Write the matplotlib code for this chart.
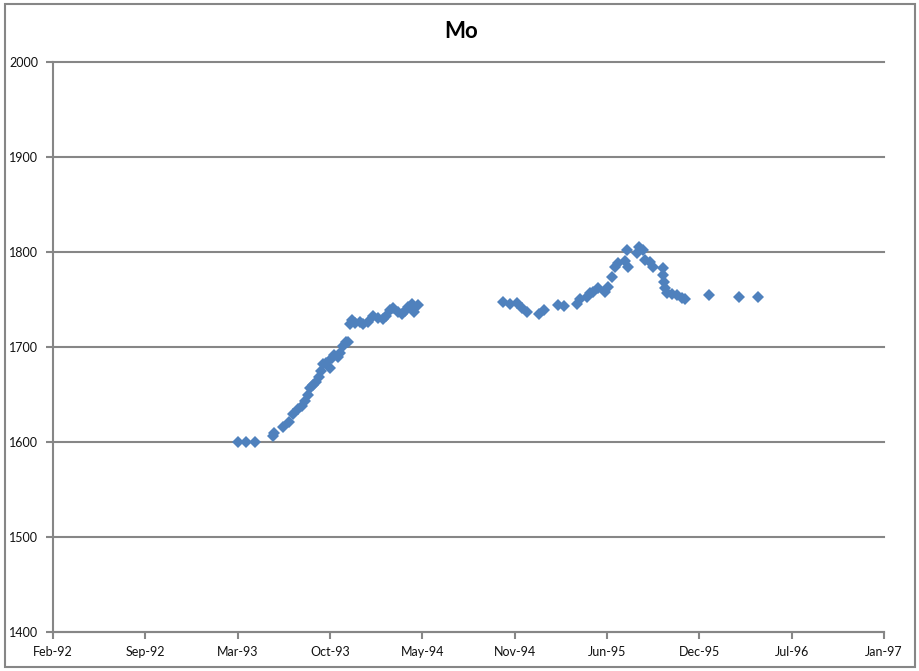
import matplotlib
matplotlib.use("Agg")
import matplotlib.pyplot as plt
import matplotlib.dates as mdates
from matplotlib.patches import Rectangle
import pandas as pd

# Mo readings (date, value)
dates = [
    "1993-03-30", "1993-04-16", "1993-05-05", "1993-06-13", "1993-06-15",
    "1993-07-05", "1993-07-18", "1993-07-27", "1993-08-06", "1993-08-15",
    "1993-08-21", "1993-08-28", "1993-09-01", "1993-09-08", "1993-09-15",
    "1993-09-21", "1993-09-26", "1993-09-30", "1993-10-06", "1993-10-15",
    "1993-10-19", "1993-10-24", "1993-11-01", "1993-11-06", "1993-11-12",
    "1993-11-19", "1993-11-23", "1993-11-27", "1993-12-02", "1993-12-08",
    "1993-12-19", "1993-12-25", "1994-01-05", "1994-01-16", "1994-01-27",
    "1994-02-07", "1994-02-13", "1994-02-22", "1994-02-28", "1994-03-11",
    "1994-03-20", "1994-03-26", "1994-04-02", "1994-04-10", "1994-04-15",
    "1994-04-23",
    "1994-10-25", "1994-11-09", "1994-11-24", "1994-12-05", "1994-12-15",
    "1995-01-11", "1995-01-21", "1995-02-21", "1995-03-06", "1995-04-03",
    "1995-04-10", "1995-04-25", "1995-05-01", "1995-05-08", "1995-05-19",
    "1995-06-03", "1995-06-09", "1995-06-18", "1995-06-24", "1995-07-01",
    "1995-07-16", "1995-07-20", "1995-07-22", "1995-08-11", "1995-08-15",
    "1995-08-24", "1995-08-28", "1995-09-08", "1995-09-15", "1995-10-06",
    "1995-10-07", "1995-10-08", "1995-10-10", "1995-10-15", "1995-10-26",
    "1995-11-05", "1995-11-16", "1995-11-23", "1996-01-13", "1996-03-20",
    "1996-04-28",
]
values = [
    1600, 1600, 1600, 1606, 1610,
    1616, 1621, 1630, 1635, 1638,
    1643, 1650, 1657, 1660, 1663,
    1668, 1675, 1682, 1683, 1678,
    1688, 1692, 1690, 1694, 1701,
    1705, 1705, 1724, 1728, 1725,
    1726, 1724, 1726, 1733, 1730,
    1729, 1733, 1739, 1741, 1737,
    1735, 1738, 1742, 1745, 1737,
    1744,
    1747, 1745, 1746, 1741, 1737,
    1735, 1739, 1744, 1743, 1745,
    1750, 1753, 1757, 1758, 1762,
    1758, 1763, 1774, 1784, 1788,
    1790, 1802, 1784, 1799, 1805,
    1802, 1792, 1789, 1784, 1783,
    1776, 1768, 1762, 1757, 1756,
    1755, 1752, 1750, 1755, 1753,
    1753,
]

title = "Mo"
x_start = pd.Timestamp("1992-02-23")
x_end = pd.Timestamp("1997-01-27")
y_ticks = [1400, 1500, 1600, 1700, 1800, 1900, 2000]

gray = "#868686"
blue = "#4F81BD"

plt.rcParams["font.family"] = ["Lato", "DejaVu Sans"]

fig = plt.figure(figsize=(9.2, 6.71), dpi=100)
ax = fig.add_axes([53 / 920, 1 - 632 / 671, (884 - 53) / 920, (632 - 62) / 671])

x = pd.to_datetime(dates)
ax.plot(x, values, linestyle="none", marker="D", markersize=6.6,
        color=blue, markeredgewidth=0, zorder=3, clip_on=False)

ax.set_xlim(x_start, x_end)
ax.set_ylim(1400, 2000)
ax.set_yticks(y_ticks)
xt = pd.date_range(x_start, x_end, freq="200D")
ax.set_xticks(xt)
ax.xaxis.set_major_formatter(mdates.DateFormatter("%b-%y"))

ax.grid(axis="y", color=gray, linewidth=1.5)
for gl in ax.get_ygridlines():
    gl.set_clip_on(False)
ax.set_axisbelow(True)

for s in ["top", "right"]:
    ax.spines[s].set_visible(False)
for s in ["left", "bottom"]:
    ax.spines[s].set_color(gray)
    ax.spines[s].set_linewidth(1.5)

ax.tick_params(axis="both", direction="out", length=5, width=1.5,
               color=gray, labelsize=9, labelcolor="#111111")
ax.tick_params(axis="x", pad=5)
ax.tick_params(axis="y", pad=5.5)

fig.text(461 / 920, 1 - 31 / 671, title, ha="center", va="center",
         fontsize=16, fontweight="bold")

fig.patches.append(Rectangle((4.5 / 920, 4 / 671), 911 / 920, 663 / 671,
                             transform=fig.transFigure, fill=False,
                             edgecolor=gray, linewidth=1.5))

fig.savefig("out.png", dpi=100)
